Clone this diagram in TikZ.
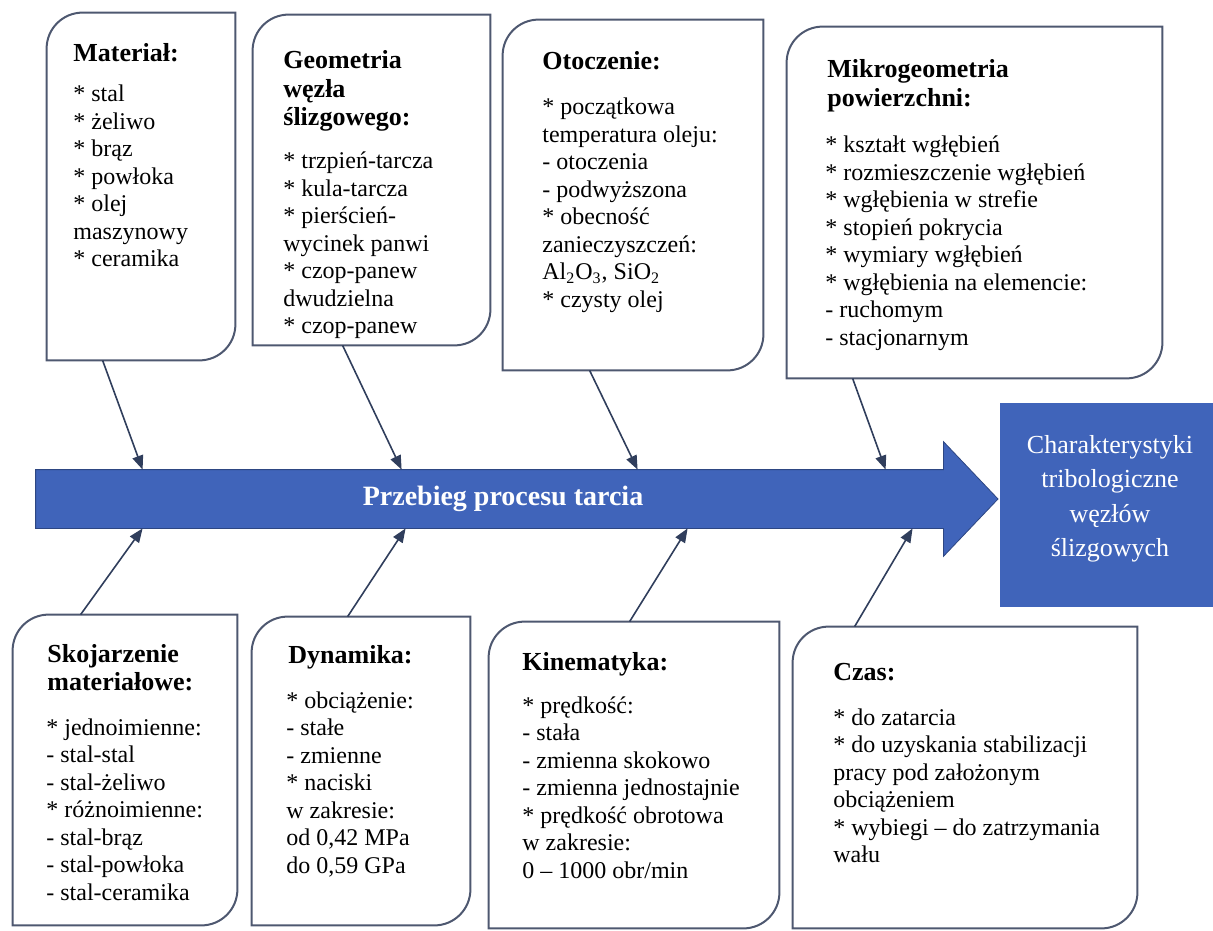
\documentclass[tikz,border=0pt]{standalone}
\usepackage{fontspec}
\setmainfont{Liberation Serif}
\usetikzlibrary{arrows.meta, positioning, calc, fit}
\definecolor{procblue}{RGB}{64,100,186}
\definecolor{edgegray}{RGB}{78,88,112}
\definecolor{conndark}{RGB}{48,62,92}

% outline with rounded top-left and bottom-right corners
\newcommand{\fishbox}[1]{%
  \draw[edgegray, line width=1pt] (#1.south west) -- ([yshift=-18pt]#1.north west)
    arc[start angle=180, end angle=90, radius=18pt] -- (#1.north east)
    -- ([yshift=18pt]#1.south east) arc[start angle=0, end angle=-90, radius=18pt] -- cycle;}
% lines whose baseline is the first one
\newcommand{\toplines}[1]{\begin{tabular}[t]{@{}l@{}}#1\end{tabular}}

\begin{document}
\begin{tikzpicture}[x=0.5pt, y=-0.5pt,
  boxn/.style={inner sep=0pt, draw=none},
  ttl/.style={anchor=base west, inner sep=0pt, font=\fontsize{13}{14.2}\selectfont\bfseries},
  lst/.style={anchor=base west, inner sep=0pt, font=\fontsize{12}{13.75}\selectfont},
  conn/.style={conndark, line width=0.8pt, -{Triangle[length=7pt, width=5.5pt]}}]
  \useasboundingbox (0,0) rectangle (1213,930);

  % boxes
  \node[boxn, fit={(47,13) (235,360)}] (mat) {};
  \node[boxn, fit={(253,15) (490,345)}] (geo) {};
  \node[boxn, fit={(503,20) (763,370)}] (oto) {};
  \node[boxn, fit={(787,27) (1162,378)}] (mik) {};
  \node[boxn, fit={(13,615) (237,925)}] (sko) {};
  \node[boxn, fit={(252,617) (470,925)}] (dyn) {};
  \node[boxn, fit={(489,622) (779,928)}] (kin) {};
  \node[boxn, fit={(793,627) (1137,928)}] (cza) {};
  \fishbox{mat} \fishbox{geo} \fishbox{oto} \fishbox{mik}
  \fishbox{sko} \fishbox{dyn} \fishbox{kin} \fishbox{cza}

  \node[ttl] (matT) at (73,62) {Materiał:};
  \node[lst] (matL) at (73,102) {\toplines{{*} stal\\{*} żeliwo\\{*} brąz\\{*} powłoka\\{*} olej\\maszynowy\\{*} ceramika}};
  \node[ttl] (geoT) at (283,69) {\toplines{Geometria\\węzła\\ślizgowego:}};
  \node[lst] (geoL) at (283,169) {\toplines{{*} trzpień-tarcza\\{*} kula-tarcza\\{*} pierścień-\\wycinek panwi\\{*} czop-panew\\dwudzielna\\{*} czop-panew}};
  \node[ttl] (otoT) at (542,70) {Otoczenie:};
  \node[lst] (otoL) at (542,115) {\toplines{{*} początkowa\\temperatura oleju:\\- otoczenia\\- podwyższona\\{*} obecność\\zanieczyszczeń:\\Al\textsubscript{2}O\textsubscript{3}, SiO\textsubscript{2}\\{*} czysty olej}};
  \node[ttl] (mikT) at (827,78) {\toplines{Mikrogeometria\\powierzchni:}};
  \node[lst] (mikL) at (825,153) {\toplines{{*} kształt wgłębień\\{*} rozmieszczenie wgłębień\\{*} wgłębienia w strefie\\{*} stopień pokrycia\\{*} wymiary wgłębień\\{*} wgłębienia na elemencie:\\- ruchomym\\- stacjonarnym}};

  \node[ttl] (skoT) at (47,662) {\toplines{Skojarzenie\\materiałowe:}};
  \node[lst] (skoL) at (46,735) {\toplines{{*} jednoimienne:\\- stal-stal\\- stal-żeliwo\\{*} różnoimienne:\\- stal-brąz\\- stal-powłoka\\- stal-ceramika}};
  \node[ttl] (dynT) at (288,663) {Dynamika:};
  \node[lst] (dynL) at (286,708) {\toplines{{*} obciążenie:\\- stałe\\- zmienne\\{*} naciski\\w zakresie:\\od 0,42 MPa\\do 0,59 GPa}};
  \node[ttl] (kinT) at (522,670) {Kinematyka:};
  \node[lst] (kinL) at (522,713) {\toplines{{*} prędkość:\\- stała\\- zmienna skokowo\\- zmienna jednostajnie\\{*} prędkość obrotowa\\w zakresie:\\0 -- 1000 obr/min}};
  \node[ttl] (czaT) at (833,680) {Czas:};
  \node[lst] (czaL) at (833,725) {\toplines{{*} do zatarcia\\{*} do uzyskania stabilizacji\\pracy pod założonym\\obciążeniem\\{*} wybiegi -- do zatrzymania\\wału}};

  % main arrow
  \node[boxn, fit={(36,470) (943,528)}] (procbody) {};
  \coordinate (tip) at (998,499);
  \filldraw[fill=procblue, draw=procblue!70!black, line width=0.4pt]
    (procbody.north west) -- (procbody.north east) -- ([yshift=14pt]procbody.north east)
    -- (tip) -- ([yshift=-14pt]procbody.south east) -- (procbody.south east)
    -- (procbody.south west) -- cycle;
  \node[text=white, font=\fontsize{14}{16}\selectfont\bfseries] (proc) at ([xshift=6.75pt]procbody.center) {Przebieg procesu tarcia};

  \node[boxn, fill=procblue, fit={(1000,403) (1220,607)}] (char) {};
  \node[text=white, align=center, font=\fontsize{13}{17.25}\selectfont] (charT) at ([yshift=3pt]char.center)
    {Charakterystyki\\tribologiczne\\węzłów\\ślizgowych};

  % connectors
  \draw[conn] ([xshift=28pt]mat.south west) -- ([xshift=53.5pt]procbody.north west);
  \draw[conn] ([xshift=45pt]geo.south west) -- ([xshift=183pt]procbody.north west);
  \draw[conn] ([xshift=43.5pt]oto.south west) -- ([xshift=301pt]procbody.north west);
  \draw[conn] ([xshift=33pt]mik.south west) -- ([xshift=425pt]procbody.north west);
  \draw[conn] ([xshift=34pt]sko.north west) -- ([xshift=53.5pt]procbody.south west);
  \draw[conn] ([xshift=48pt]dyn.north west) -- ([xshift=185pt]procbody.south west);
  \draw[conn] ([xshift=70.5pt]kin.north west) -- ([xshift=326pt]procbody.south west);
  \draw[conn] ([xshift=31pt]cza.north west) -- ([xshift=438.5pt]procbody.south west);
\end{tikzpicture}
\end{document}
